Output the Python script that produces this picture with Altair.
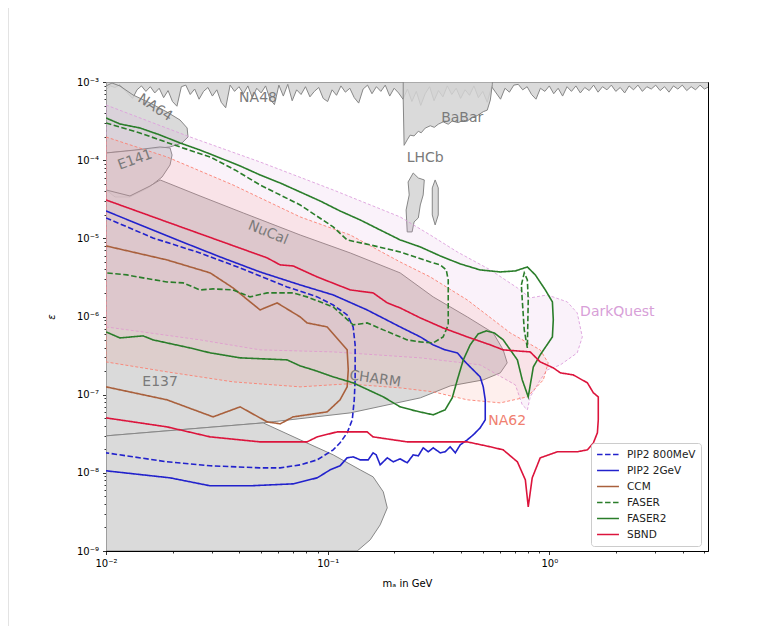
import altair as alt
import numpy as np
import pandas as pd

# ---------------- data: (log10 m_a [GeV], log10 epsilon) -------------
pip2_800 = [(-2.000,-4.739),(-1.788,-4.995),(-1.576,-5.187),(-1.395,-5.379),(-1.183,-5.622),
            (-1.047,-5.749),(-0.975,-5.852),(-0.912,-5.980),(-0.885,-6.133),(-0.876,-6.363),
            (-0.876,-6.811),(-0.880,-7.066),(-0.889,-7.322),(-0.912,-7.488),(-0.944,-7.616),
            (-0.975,-7.706),(-1.047,-7.834),(-1.124,-7.898),(-1.214,-7.936),(-1.305,-7.936),
            (-1.530,-7.910),(-1.725,-7.859),(-2.000,-7.744)]
pip2_2 = [(-2.000,-4.650),(-1.679,-5.020),(-1.485,-5.238),(-1.305,-5.430),(-1.124,-5.596),
          (-0.975,-5.724),(-0.822,-5.916),(-0.673,-6.133),(-0.582,-6.261),(-0.524,-6.363),
          (-0.470,-6.427),(-0.415,-6.465),(-0.388,-6.555),(-0.357,-6.645),(-0.312,-6.772),
          (-0.298,-6.900),(-0.289,-7.066),(-0.289,-7.322),(-0.312,-7.425),(-0.343,-7.514),
          (-0.370,-7.578),(-0.402,-7.642),(-0.424,-7.744),(-0.447,-7.667),(-0.470,-7.731),
          (-0.492,-7.744),(-0.524,-7.680),(-0.546,-7.731),(-0.569,-7.680),(-0.591,-7.783),
          (-0.614,-7.770),(-0.641,-7.872),(-0.673,-7.821),(-0.704,-7.859),(-0.731,-7.808),
          (-0.763,-7.898),(-0.781,-7.770),(-0.795,-7.744),(-0.817,-7.834),(-0.853,-7.834),
          (-0.885,-7.796),(-0.912,-7.808),(-0.944,-7.910),(-0.989,-7.962),(-1.047,-8.064),
          (-1.156,-8.141),(-1.350,-8.166),(-1.530,-8.166),(-1.711,-8.064),(-2.000,-7.974)]
ccm = [(-2.000,-5.097),(-1.725,-5.276),(-1.530,-5.442),(-1.427,-5.634),(-1.305,-5.916),
       (-1.228,-5.826),(-1.124,-6.005),(-1.093,-6.082),(-1.002,-6.133),(-0.912,-6.427),
       (-0.907,-6.683),(-0.912,-6.900),(-0.944,-7.066),(-1.002,-7.220),(-1.156,-7.284),
       (-1.214,-7.373),(-1.273,-7.348),(-1.395,-7.156),(-1.517,-7.284),(-1.725,-7.066),
       (-2.000,-6.900)]
faser = [(-2.000,-3.524),(-1.847,-3.652),(-1.666,-3.831),(-1.530,-3.959),(-1.418,-4.125),
         (-1.305,-4.317),(-1.124,-4.573),(-0.975,-4.854),(-0.912,-5.020),(-0.808,-5.084),
         (-0.673,-5.174),(-0.537,-5.302),(-0.492,-5.340),(-0.465,-5.404),(-0.456,-5.532),
         (-0.456,-5.788),(-0.456,-6.107),(-0.479,-6.261),(-0.524,-6.338),(-0.582,-6.325),
         (-0.641,-6.299),(-0.749,-6.171),(-0.822,-6.082),(-0.885,-6.107),(-0.975,-5.877),
         (-1.093,-5.749),(-1.156,-5.698),(-1.273,-5.698),(-1.350,-5.749),(-1.427,-5.660),
         (-1.517,-5.647),(-1.576,-5.660),(-1.652,-5.570),(-1.725,-5.558),(-1.833,-5.506),
         (-1.905,-5.468),(-2.000,-5.442)]
faser_spike = [(-0.126,-5.596),(-0.113,-5.442),(-0.099,-5.532),(-0.095,-5.788),(-0.099,-6.402),
               (-0.113,-6.171),(-0.122,-5.788)]
faser2 = [(-2.000,-3.460),(-1.937,-3.537),(-1.847,-3.588),(-1.756,-3.678),(-1.666,-3.780),
          (-1.576,-3.870),(-1.485,-3.972),(-1.395,-4.074),(-1.305,-4.189),(-1.214,-4.292),
          (-1.124,-4.407),(-1.034,-4.522),(-0.944,-4.650),(-0.853,-4.765),(-0.763,-4.893),
          (-0.673,-5.020),(-0.582,-5.110),(-0.492,-5.225),(-0.402,-5.327),(-0.312,-5.404),
          (-0.221,-5.430),(-0.153,-5.417),(-0.099,-5.366),(-0.063,-5.468),(-0.018,-5.660),
          (0.014,-5.813),(0.018,-6.043),(0.014,-6.261),(-0.041,-6.491),(-0.072,-6.645),
          (-0.095,-7.028),(-0.122,-6.811),(-0.144,-6.555),(-0.176,-6.427),(-0.208,-6.299),
          (-0.248,-6.210),(-0.284,-6.184),(-0.321,-6.223),(-0.357,-6.363),(-0.388,-6.555),
          (-0.415,-6.811),(-0.438,-7.041),(-0.470,-7.194),(-0.524,-7.258),(-0.605,-7.207),
          (-0.673,-7.156),(-0.749,-7.028),(-0.885,-6.849),(-0.975,-6.772),(-1.065,-6.683),
          (-1.124,-6.632),(-1.183,-6.555),(-1.395,-6.529),(-1.530,-6.465),(-1.621,-6.402),
          (-1.788,-6.299),(-1.833,-6.248),(-1.937,-6.274),(-2.000,-6.197)]
sbnd = [(-2.000,-4.509),(-1.725,-4.790),(-1.499,-5.020),(-1.273,-5.250),(-1.214,-5.340),
        (-1.156,-5.353),(-1.047,-5.494),(-0.898,-5.660),(-0.795,-5.698),(-0.731,-5.826),
        (-0.673,-5.890),(-0.582,-6.018),(-0.479,-6.146),(-0.370,-6.261),(-0.266,-6.363),
        (-0.208,-6.427),(-0.086,-6.453),(-0.041,-6.581),(0.018,-6.657),(0.050,-6.721),
        (0.108,-6.747),(0.172,-6.849),(0.199,-6.977),(0.221,-7.028),(0.221,-7.322),
        (0.217,-7.488),(0.199,-7.616),(0.172,-7.706),(0.126,-7.731),(0.036,-7.731),
        (-0.041,-7.808),(-0.077,-8.064),(-0.095,-8.435),(-0.108,-8.090),(-0.144,-7.859),
        (-0.208,-7.706),(-0.266,-7.667),(-0.370,-7.604),(-0.524,-7.604),(-0.641,-7.604),
        (-0.795,-7.540),(-0.822,-7.476),(-0.957,-7.476),(-1.047,-7.540),(-1.093,-7.604),
        (-1.305,-7.604),(-1.530,-7.540),(-1.725,-7.412),(-2.000,-7.297)]

# existing limits (grey)
na48 = [(-2.00,-3.10),(-1.98,-3.05),(-1.96,-3.07),(-1.94,-3.04),(-1.92,-3.09),(-1.90,-3.15),
        (-1.88,-3.21),(-1.86,-3.10),(-1.84,-3.05),(-1.82,-3.12),(-1.80,-3.06),(-1.78,-3.14),
        (-1.76,-3.08),(-1.74,-3.20),(-1.72,-3.11),(-1.70,-3.25),(-1.68,-3.31),(-1.66,-3.06),
        (-1.64,-3.04),(-1.62,-3.16),(-1.60,-3.09),(-1.58,-3.22),(-1.56,-3.12),(-1.54,-3.07),
        (-1.52,-3.18),(-1.50,-3.10),(-1.48,-3.26),(-1.46,-3.33),(-1.44,-3.04),(-1.42,-3.12),
        (-1.40,-3.06),(-1.38,-3.15),(-1.36,-3.05),(-1.34,-3.20),(-1.32,-3.08),(-1.30,-3.14),
        (-1.28,-3.05),(-1.26,-3.22),(-1.24,-3.29),(-1.22,-3.04),(-1.20,-3.18),(-1.18,-3.03),
        (-1.16,-3.24),(-1.14,-3.10),(-1.12,-3.16),(-1.10,-3.06),(-1.08,-3.19),(-1.06,-3.12),
        (-1.04,-3.07),(-1.02,-3.21),(-1.00,-3.25),(-0.98,-3.10),(-0.96,-3.17),(-0.94,-3.05),
        (-0.92,-3.13),(-0.90,-3.08),(-0.88,-3.20),(-0.86,-3.27),(-0.84,-3.09),(-0.82,-3.04),
        (-0.80,-3.15),(-0.78,-3.06),(-0.76,-3.12),(-0.74,-3.04),(-0.72,-3.18),(-0.70,-3.08),
        (-0.68,-3.14),(-0.66,-3.22),(-0.64,-3.09),(-0.62,-3.25),(-0.60,-3.12),(-0.58,-3.30),
        (-0.56,-3.15),(-0.54,-3.06),(-0.52,-3.24),(-0.50,-3.11),(-0.48,-3.19),(-0.46,-3.05),
        (-0.44,-3.16),(-0.42,-3.08),(-0.40,-3.21),(-0.38,-3.10),(-0.36,-3.17),(-0.34,-3.05),
        (-0.32,-3.20),(-0.30,-3.12),(-0.28,-3.26),(-0.26,-3.06),(-0.24,-3.14),(-0.22,-3.22),
        (-0.20,-3.08),(-0.18,-3.13),(-0.16,-3.04),(-0.14,-3.03),(-0.12,-3.10),(-0.10,-3.06),
        (-0.08,-3.16),(-0.06,-3.22),(-0.04,-3.08),(-0.02,-3.12),(0.00,-3.05),(0.02,-3.15),
        (0.04,-3.08),(0.06,-3.18),(0.08,-3.06),(0.10,-3.12),(0.12,-3.05),(0.14,-3.14),
        (0.16,-3.07),(0.18,-3.11),(0.20,-3.04),(0.22,-3.13),(0.24,-3.06),(0.26,-3.10),
        (0.28,-3.04),(0.30,-3.12),(0.32,-3.07),(0.34,-3.14),(0.36,-3.05),(0.38,-3.10),
        (0.40,-3.04),(0.42,-3.12),(0.44,-3.06),(0.46,-3.09),(0.48,-3.04),(0.50,-3.11),
        (0.52,-3.06),(0.54,-3.13),(0.56,-3.05),(0.58,-3.09),(0.60,-3.04),(0.62,-3.11),
        (0.64,-3.06),(0.66,-3.10),(0.68,-3.04),(0.70,-3.09),(0.72,-3.06)]
babar = [(-0.659,-3.23),(-0.655,-3.81),(-0.641,-3.74),(-0.628,-3.68),(-0.610,-3.69),
         (-0.591,-3.63),(-0.578,-3.65),(-0.560,-3.59),(-0.537,-3.56),(-0.519,-3.58),
         (-0.501,-3.54),(-0.479,-3.51),(-0.456,-3.54),(-0.438,-3.50),(-0.411,-3.52),
         (-0.388,-3.49),(-0.370,-3.50),(-0.348,-3.45),(-0.325,-3.43),(-0.298,-3.38),
         (-0.280,-3.36),(-0.266,-3.23),(-0.257,-3.03)]
lhcb_a = [(-0.641,-4.918),(-0.646,-4.637),(-0.632,-4.445),(-0.637,-4.279),(-0.614,-4.164),
          (-0.591,-4.228),(-0.564,-4.253),(-0.569,-4.445),(-0.582,-4.573),(-0.591,-4.739),
          (-0.610,-4.790),(-0.619,-4.918)]
lhcb_b = [(-0.515,-4.253),(-0.501,-4.355),(-0.501,-4.701),(-0.515,-4.829),(-0.528,-4.701),
          (-0.528,-4.355)]
na64 = [(-2.000,-3.051),(-1.973,-3.013),(-1.937,-3.051),(-1.878,-3.166),(-1.801,-3.269),
        (-1.725,-3.384),(-1.666,-3.486),(-1.634,-3.588),(-1.630,-3.703),(-1.657,-3.780),
        (-1.711,-3.831),(-1.801,-3.857),(-1.892,-3.882),(-2.000,-3.908)]
e141 = [(-2.000,-3.908),(-1.869,-3.870),(-1.756,-3.831),(-1.711,-3.844),(-1.702,-3.934),
        (-1.711,-4.061),(-1.747,-4.215),(-1.810,-4.355),(-1.892,-4.471),(-1.959,-4.471),
        (-2.000,-4.381)]
charm_nucal = [(-2.000,-4.381),(-1.892,-4.458),(-1.801,-4.330),(-1.756,-4.253),(-1.576,-4.458),
               (-1.381,-4.675),(-1.124,-4.957),(-0.898,-5.187),(-0.673,-5.442),(-0.524,-5.749),
               (-0.370,-6.005),(-0.253,-6.210),(-0.208,-6.427),(-0.190,-6.593),(-0.221,-6.721),
               (-0.298,-6.811),(-0.447,-6.888),(-0.582,-7.041),(-0.898,-7.233),(-1.291,-7.361),
               (-2.000,-7.527)]
e137 = [(-2.000,-7.527),(-1.291,-7.361),(-1.124,-7.578),(-0.975,-7.770),(-0.853,-7.962),
        (-0.795,-8.051),(-0.749,-8.243),(-0.731,-8.448),(-0.763,-8.665),(-0.808,-8.857),
        (-0.867,-9.000),(-2.000,-9.000)]

# projected reaches (shaded, dashed outlines)
na62 = [(-2.000,-3.703),(-1.725,-3.959),(-1.427,-4.317),(-1.124,-4.726),(-0.898,-4.957),
        (-0.673,-5.302),(-0.537,-5.494),(-0.370,-5.788),(-0.176,-6.210),(-0.041,-6.427),
        (-0.005,-6.593),(-0.027,-6.811),(-0.099,-7.028),(-0.221,-7.105),(-0.370,-7.066),
        (-0.524,-6.964),(-0.673,-6.913),(-0.912,-6.862),(-1.124,-6.900),(-1.427,-6.836),
        (-1.725,-6.708),(-2.000,-6.581)]
darkquest = [(-2.000,-3.294),(-1.621,-3.703),(-1.305,-4.023),(-0.975,-4.381),(-0.673,-4.726),
             (-0.537,-4.957),(-0.415,-5.174),(-0.266,-5.404),(-0.144,-5.634),(-0.086,-5.762),
             (-0.009,-5.724),(0.081,-5.813),(0.126,-5.954),(0.149,-6.261),(0.126,-6.465),
             (0.050,-6.619),(-0.009,-6.683),(-0.041,-6.811),(-0.086,-7.028),(-0.099,-7.194),
             (-0.122,-7.130),(-0.153,-6.875),(-0.312,-6.619),(-0.582,-6.529),(-0.975,-6.453),
             (-1.305,-6.427),(-1.576,-6.299),(-2.000,-6.133)]

EPS_TOP = -3.0   # log10 of the upper plot limit, where NA48/BaBar bands hang from

region_labels = ["NA48", "BaBar", "LHCb", "NA64", "E141", "NuCal", "CHARM", "E137"]
region_label_x = [-1.314, -0.393, -0.560, -1.779, -1.869, -1.269, -0.786, -1.756]
region_label_y = [-3.205, -3.460, -3.972, -3.330, -3.997, -4.930, -6.800, -6.836]
region_label_angle = [0, 0, 0, 33, 340, 22, 8, 0]

series_names = ["PIP2 800MeV", "PIP2 2GeV", "CCM", "FASER", "FASER2", "SBND"]
series_colors = ["#2222cc", "#2222cc", "#a9603c", "#2a7d2a", "#2a7d2a", "#dc143c"]
series_dash = [[5.5, 2.5], [1, 0], [1, 0], [5.5, 2.5], [1, 0], [1, 0]]

x_ticks = [0.01, 0.02, 0.03, 0.04, 0.05, 0.06, 0.07, 0.08, 0.09,
           0.1, 0.2, 0.3, 0.4, 0.5, 0.6, 0.7, 0.8, 0.9, 1, 2, 3, 4, 5]
y_ticks = [m * 10.0 ** e for e in range(-9, -3) for m in range(1, 10)] + [1e-3]


def frame(pts, name, part=None, closed=False):
    pts = list(pts) + ([pts[0]] if closed else [])
    a = np.array(pts, dtype=float)
    return pd.DataFrame({"m": 10 ** a[:, 0], "eps": 10 ** a[:, 1],
                         "i": np.arange(len(a)), "name": name, "part": part or name})


grey_df = pd.concat([
    frame(na48 + [(0.75, EPS_TOP), (-2.0, EPS_TOP)], "NA48", closed=True),
    frame(babar + [(-0.257, EPS_TOP), (-0.659, EPS_TOP)], "BaBar", closed=True),
    frame(lhcb_a, "LHCb_a", closed=True),
    frame(lhcb_b, "LHCb_b", closed=True),
    frame(na64, "NA64", closed=True),
    frame(e141, "E141", closed=True),
    frame(charm_nucal, "CHARM", closed=True),
    frame(e137, "E137", closed=True),
])
dq_df = frame(darkquest, "DarkQuest", closed=True)
na62_df = frame(na62, "NA62", closed=True)
lines_df = pd.concat([
    frame(pip2_800, "PIP2 800MeV"),
    frame(pip2_2, "PIP2 2GeV"),
    frame(ccm, "CCM"),
    frame(faser, "FASER", part="FASER main"),
    frame(faser_spike, "FASER", part="FASER spike", closed=True),
    frame(faser2, "FASER2"),
    frame(sbnd, "SBND"),
])
lab_df = pd.DataFrame({"text": region_labels,
                       "m": 10 ** np.array(region_label_x),
                       "eps": 10 ** np.array(region_label_y),
                       "angle": region_label_angle})
na62_lab = pd.DataFrame({"text": ["NA62"], "m": [10 ** -0.190], "eps": [10 ** -7.335]})
dq_lab = pd.DataFrame({"text": ["DarkQuest"], "m": [10 ** 0.307], "eps": [10 ** -5.94]})

IS_MAJOR = "abs(log(datum.value)/LN10 - round(log(datum.value)/LN10)) < 0.01"
LABEL = (IS_MAJOR + " ? ['10⁻⁹','10⁻⁸','10⁻⁷','10⁻⁶','10⁻⁵','10⁻⁴','10⁻³','10⁻²','10⁻¹','10⁰']"
         "[round(log(datum.value)/LN10)+9] : ''")
TICK = {"condition": {"test": IS_MAJOR, "value": 3.5}, "value": 2}

x_axis = alt.Axis(values=x_ticks, labelExpr=LABEL, tickSize=TICK, title="mₐ in GeV",
                  grid=False, labelOverlap=False, labelFlush=False, labelPadding=4,
                  titleY=32, titleBaseline="middle")
y_axis = alt.Axis(values=y_ticks, labelExpr=LABEL, tickSize=TICK, title="ε",
                  grid=False, labelOverlap=False, labelFlush=False, labelPadding=4,
                  titleX=-50, titleFontStyle="italic")

X = alt.X("m:Q", scale=alt.Scale(type="log", domain=[0.01, 5.2], nice=False), axis=x_axis)
Y = alt.Y("eps:Q", scale=alt.Scale(type="log", domain=[1e-9, 1e-3], nice=False), axis=y_axis)

grey = alt.Chart(grey_df).mark_line(fill="#d3d3d3", fillOpacity=0.85, stroke="#878787",
                                    strokeWidth=1, clip=True).encode(
    x=X, y=Y, detail="part:N", order="i:Q")
dq = alt.Chart(dq_df).mark_line(fill="#dda0dd", fillOpacity=0.14, stroke="#dda0dd",
                                strokeDash=[3, 2], strokeWidth=0.9, clip=True).encode(
    x=X, y=Y, order="i:Q")
na62_l = alt.Chart(na62_df).mark_line(fill="#fa8072", fillOpacity=0.13, stroke="#fa8072",
                                      strokeDash=[3, 2], strokeWidth=0.9, clip=True).encode(
    x=X, y=Y, order="i:Q")

leg = alt.Legend(title=None, orient="none", legendX=485, legendY=361, symbolType="stroke",
                 symbolSize=480, symbolStrokeWidth=1.6, labelFontSize=10.5,
                 fillColor="white", strokeColor="#cccccc", cornerRadius=3, padding=5,
                 rowPadding=3, clipHeight=13, labelOffset=7)
lines = alt.Chart(lines_df).mark_line(strokeWidth=1.6, clip=True).encode(
    x=X, y=Y,
    color=alt.Color("name:N", scale=alt.Scale(domain=series_names, range=series_colors), legend=leg),
    strokeDash=alt.StrokeDash("name:N", scale=alt.Scale(domain=series_names, range=series_dash), legend=leg),
    detail="part:N", order="i:Q")

labels = alt.Chart(lab_df).mark_text(fontSize=14, color="#7a7a7a", align="center",
                                     baseline="middle").encode(
    x=X, y=Y, text="text:N", angle=alt.Angle("angle:Q", scale=None))
na62_t = alt.Chart(na62_lab).mark_text(fontSize=14, color="#f08070", align="center",
                                       baseline="middle").encode(x=X, y=Y, text="text:N")
dq_t = alt.Chart(dq_lab).mark_text(fontSize=14, color="#d8a0d8", align="center",
                                   baseline="middle").encode(x=X, y=Y, text="text:N")

# light notebook-cell frame line at the left edge of the page
cell_edge = alt.Chart(pd.DataFrame({"k": [0]})).mark_rule(color="#e3e3e3", strokeWidth=1).encode(
    x=alt.value(-97.5), y=alt.value(-74), y2=alt.value(544))

chart = alt.layer(cell_edge, grey, dq, na62_l, lines, labels, na62_t, dq_t).properties(
    width=602, height=469,
    autosize=alt.AutoSizeParams(type="none"),
    padding={"left": 98, "top": 74, "right": 59, "bottom": 75},
).configure_view(stroke="black", strokeWidth=1).configure_axis(
    labelFont="DejaVu Sans", titleFont="DejaVu Sans", labelFontSize=10, titleFontSize=10,
    labelColor="black", titleColor="black", tickColor="black", domainColor="black",
    titleFontWeight="normal", domainWidth=1, tickWidth=0.8
).configure_legend(labelFont="DejaVu Sans", labelColor="#222222").configure_text(font="DejaVu Sans")

chart.save("out.html", embed_options={"renderer": "svg", "actions": False})
